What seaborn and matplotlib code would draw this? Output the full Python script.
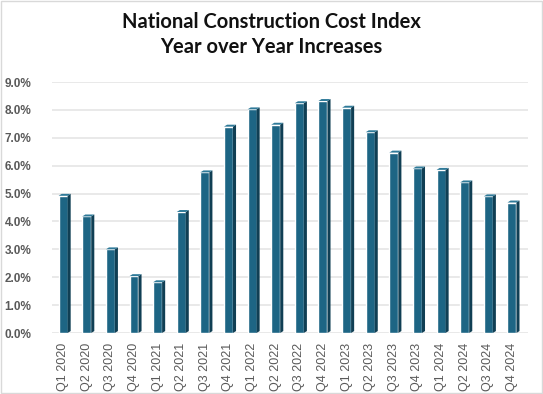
import matplotlib
matplotlib.use("Agg")
import matplotlib.pyplot as plt
from matplotlib.patches import Polygon, Rectangle
import seaborn as sns
import pandas as pd

quarters = ["Q1 2020", "Q2 2020", "Q3 2020", "Q4 2020",
            "Q1 2021", "Q2 2021", "Q3 2021", "Q4 2021",
            "Q1 2022", "Q2 2022", "Q3 2022", "Q4 2022",
            "Q1 2023", "Q2 2023", "Q3 2023", "Q4 2023",
            "Q1 2024", "Q2 2024", "Q3 2024", "Q4 2024"]
increase = [4.92, 4.18, 3.0, 2.04, 1.82, 4.34, 5.76, 7.4,
            8.02, 7.47, 8.24, 8.32, 8.08, 7.2, 6.47, 5.9,
            5.85, 5.4, 4.9, 4.68]
yticks = [0, 1, 2, 3, 4, 5, 6, 7, 8, 9]

front = "#1d6584"
side = "#103f54"
top_col = "#2f7a99"

df = pd.DataFrame({"quarter": quarters, "pct": increase})

sns.set_style("white")
plt.rcParams["font.family"] = ["Liberation Sans", "DejaVu Sans"]

fig = plt.figure(figsize=(5.43, 3.94), dpi=100)
ax = fig.add_axes([0.0958, 0.1548, 0.8766, 0.637])

sns.barplot(data=df, x="quarter", y="pct", color=front, width=0.38,
            saturation=1, ax=ax, zorder=3)

# fake 3d side and top faces from the drawn bars
dx, dy = 0.13, 0.07
for p in ax.patches:
    x0 = p.get_x()
    w = p.get_width()
    h = p.get_height()
    x1 = x0 + w
    ax.add_patch(Polygon([(x1, 0), (x1 + dx, dy), (x1 + dx, h + dy), (x1, h)],
                         closed=True, color=side, zorder=3, lw=0))
    ax.add_patch(Polygon([(x0, h), (x0 + dx, h + dy), (x1 + dx, h + dy), (x1, h)],
                         closed=True, color=top_col, zorder=3, lw=0))

ax.set_xlim(-0.47, 19.68)
ax.set_ylim(0, 9)
ax.set_yticks(yticks)
ax.set_yticklabels([f"{v:.1f}%" for v in yticks])
ax.yaxis.grid(True, color="#e3e3e3", lw=1.1, zorder=0)
ax.set_axisbelow(True)
for s in ax.spines.values():
    s.set_visible(False)
ax.set_xlabel("")
ax.set_ylabel("")
ax.tick_params(axis="y", length=0, pad=15, labelsize=8.5, labelcolor="#595959")
ax.tick_params(axis="x", length=0, pad=7, labelsize=9, labelcolor="#595959",
               rotation=90)
for t in ax.get_yticklabels():
    t.set_fontweight("bold")

fig.text(0.5, 0.945, "National Construction Cost Index", ha="center", va="center",
         fontsize=14.5, fontweight="bold", color="#111111", family=["Lato", "DejaVu Sans"])
fig.text(0.5, 0.88, "Year over Year Increases", ha="center", va="center",
         fontsize=14.5, fontweight="bold", color="#111111", family=["Lato", "DejaVu Sans"])

fig.patches.append(Rectangle((0.002, 0.002), 0.996, 0.996, transform=fig.transFigure,
                             fill=False, ec="#d9d9d9", lw=1))

fig.savefig("out.png", dpi=100)
